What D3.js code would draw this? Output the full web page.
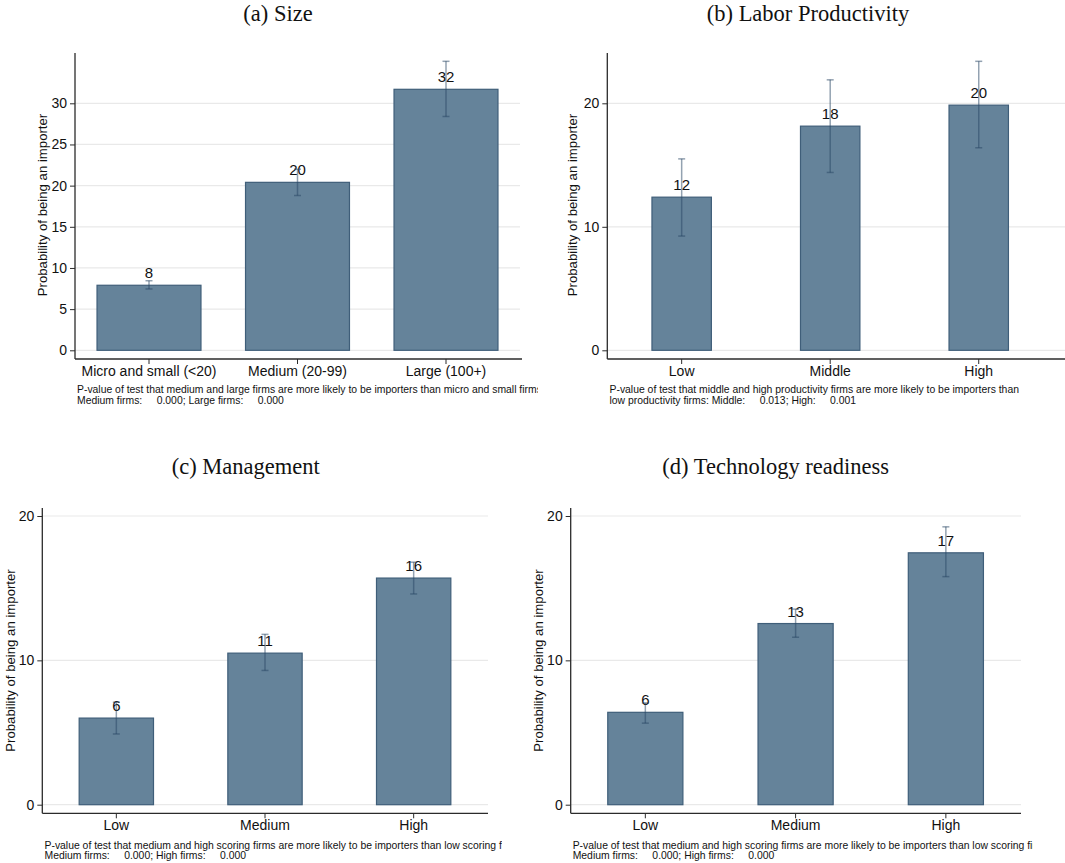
<!DOCTYPE html>
<html>
<head>
<meta charset="utf-8">
<script src="https://cdn.jsdelivr.net/npm/d3@7/dist/d3.min.js"></script>
<style>
  html, body { margin: 0; padding: 0; background: #fff; }
  svg { display: block; }
</style>
</head>
<body>
<svg id="chart" width="1065" height="863"></svg>
<script>
// ---------------- DATA ----------------
const titles = ["(a) Size", "(b) Labor Productivity", "(c) Management", "(d) Technology readiness"];

const categoriesA = ["Micro and small (<20)", "Medium (20-99)", "Large (100+)"];
const valuesA = [7.9, 20.4, 31.7];
const ciLowA = [7.45, 18.8, 28.4];
const ciHighA = [8.45, 22.0, 35.1];
const labelsA = ["8", "20", "32"];
const ticksA = [0, 5, 10, 15, 20, 25, 30];
const notesA = ["P-value of test that medium and large firms are more likely to be importers than micro and small firms:",
                "Medium firms:     0.000; Large firms:     0.000"];

const categoriesB = ["Low", "Middle", "High"];
const valuesB = [12.4, 18.15, 19.85];
const ciLowB = [9.25, 14.4, 16.4];
const ciHighB = [15.5, 21.9, 23.4];
const labelsB = ["12", "18", "20"];
const ticksB = [0, 10, 20];
const notesB = ["P-value of test that middle and high productivity firms are more likely to be importers than",
                "low productivity firms: Middle:     0.013; High:     0.001"];

const categoriesC = ["Low", "Medium", "High"];
const valuesC = [6.0, 10.5, 15.7];
const ciLowC = [4.9, 9.3, 14.6];
const ciHighC = [7.1, 11.8, 16.8];
const labelsC = ["6", "11", "16"];
const ticksC = [0, 10, 20];
const notesC = ["P-value of test that medium and high scoring firms are more likely to be importers than low scoring firms:",
                "Medium firms:     0.000; High firms:     0.000"];

const categoriesD = ["Low", "Medium", "High"];
const valuesD = [6.4, 12.55, 17.45];
const ciLowD = [5.65, 11.6, 15.8];
const ciHighD = [7.05, 13.55, 19.25];
const labelsD = ["6", "13", "17"];
const ticksD = [0, 10, 20];
const notesD = ["P-value of test that medium and high scoring firms are more likely to be importers than low scoring firms:",
                "Medium firms:     0.000; High firms:     0.000"];

const yTitle = "Probability of being an importer";

// ---------------- LAYOUT ----------------
const panels = [
  { title: titles[0], cats: categoriesA, vals: valuesA, lo: ciLowA, hi: ciHighA, labs: labelsA, ticks: ticksA, notes: notesA,
    yMax: 30, yZero: 350.3, yTopVal: 103.3, axisTop: 53, axisBottom: 359, axisLeft: 75, axisRight: 522,
    band: [74.75, 520.25], barFrac: 0.7, gridRight: 520,
    titleX: 278, titleY: 21, yTitleX: 42, yTitleY: 205, noteX: 77, noteY: 393, clipRight: 538 },
  { title: titles[1], cats: categoriesB, vals: valuesB, lo: ciLowB, hi: ciHighB, labs: labelsB, ticks: ticksB, notes: notesB,
    yMax: 20, yZero: 350.3, yTopVal: 103.3, axisTop: 53, axisBottom: 359, axisLeft: 607.3, axisRight: 1065,
    band: [607.4, 1053], barFrac: 0.4, gridRight: 1065,
    titleX: 808, titleY: 21, yTitleX: 572.3, yTitleY: 205, noteX: 609.5, noteY: 393, clipRight: 1065 },
  { title: titles[2], cats: categoriesC, vals: valuesC, lo: ciLowC, hi: ciHighC, labs: labelsC, ticks: ticksC, notes: notesC,
    yMax: 20, yZero: 804.7, yTopVal: 516, axisTop: 508, axisBottom: 813.3, axisLeft: 42.3, axisRight: 488,
    band: [42, 488], barFrac: 0.5, gridRight: 488,
    titleX: 245.7, titleY: 474, yTitleX: 10.5, yTitleY: 660.5, noteX: 44.5, noteY: 848.5, clipRight: 502 },
  { title: titles[3], cats: categoriesD, vals: valuesD, lo: ciLowD, hi: ciHighD, labs: labelsD, ticks: ticksD, notes: notesD,
    yMax: 20, yZero: 804.7, yTopVal: 516, axisTop: 508, axisBottom: 813.3, axisLeft: 570.7, axisRight: 1021,
    band: [570.2, 1021], barFrac: 0.5, gridRight: 1021,
    titleX: 775.7, titleY: 474, yTitleX: 538.3, yTitleY: 660.5, noteX: 572.7, noteY: 848.5, clipRight: 1033 }
];

const barFill = "#65839a";
const barStroke = "#3f5e79";
const ciColor = "rgba(40,70,100,0.5)";
const gridColor = "#e9e9e9";
const axisColor = "#2b2b2b";
const sans = "'Liberation Sans', Arial, Helvetica, sans-serif";
const serif = "'Liberation Serif', 'DejaVu Serif', serif";

const svg = d3.select("#chart");
const defs = svg.append("defs");

panels.forEach((p, pi) => {
  const g = svg.append("g");
  const y = d3.scaleLinear().domain([0, p.yMax]).range([p.yZero, p.yTopVal]);
  const x = d3.scaleBand().domain(p.cats).range(p.band).paddingInner(0).paddingOuter(0);
  const step = x.bandwidth();
  const bw = step * p.barFrac;
  const cx = c => x(c) + step / 2;

  // title
  g.append("text").attr("x", p.titleX).attr("y", p.titleY)
    .attr("text-anchor", "middle").attr("font-family", serif).attr("font-size", 22.5)
    .attr("fill", "#111").text(p.title);

  // gridlines
  g.append("g").selectAll("line").data(p.ticks).join("line")
    .attr("x1", p.axisLeft).attr("x2", p.gridRight)
    .attr("y1", d => y(d)).attr("y2", d => y(d))
    .attr("stroke", gridColor).attr("stroke-width", 1.2);

  // y axis
  const yAxis = d3.axisLeft(y).tickValues(p.ticks).tickSize(5).tickPadding(3).tickFormat(d3.format("d"));
  const ya = g.append("g").attr("transform", `translate(${p.axisLeft},0)`).call(yAxis);
  ya.select(".domain").remove();
  ya.selectAll(".tick line").attr("stroke", axisColor);
  ya.selectAll(".tick text").attr("font-family", sans).attr("font-size", 14).attr("fill", "#111");
  g.append("line").attr("x1", p.axisLeft).attr("x2", p.axisLeft)
    .attr("y1", p.axisTop).attr("y2", p.axisBottom).attr("stroke", axisColor).attr("stroke-width", 1.3);

  // x axis
  const xAxis = d3.axisBottom(x).tickSize(5).tickPadding(2);
  const xa = g.append("g").attr("transform", `translate(0,${p.axisBottom})`).call(xAxis);
  xa.select(".domain").remove();
  xa.selectAll(".tick line").attr("stroke", axisColor);
  xa.selectAll(".tick text").attr("font-family", sans).attr("font-size", 14).attr("fill", "#111");
  g.append("line").attr("x1", p.axisLeft).attr("x2", p.axisRight)
    .attr("y1", p.axisBottom).attr("y2", p.axisBottom).attr("stroke", axisColor).attr("stroke-width", 1.3);

  // y title
  g.append("text").attr("transform", `translate(${p.yTitleX},${p.yTitleY}) rotate(-90)`)
    .attr("text-anchor", "middle").attr("dominant-baseline", "central")
    .attr("font-family", sans).attr("font-size", 13.2).attr("fill", "#111").text(yTitle);

  const data = p.cats.map((c, i) => ({ c, v: p.vals[i], lo: p.lo[i], hi: p.hi[i], lab: p.labs[i] }));

  // bars
  g.append("g").selectAll("rect").data(data).join("rect")
    .attr("x", d => cx(d.c) - bw / 2).attr("width", bw)
    .attr("y", d => y(d.v)).attr("height", d => y(0) - y(d.v))
    .attr("fill", barFill).attr("stroke", barStroke).attr("stroke-width", 1.2);

  // value labels
  g.append("g").selectAll("text").data(data).join("text")
    .attr("x", d => cx(d.c)).attr("y", d => y(d.v) - 7)
    .attr("text-anchor", "middle").attr("font-family", sans).attr("font-size", 15)
    .attr("fill", "#111").text(d => d.lab);

  // CI
  const ci = g.append("g").attr("stroke", ciColor).attr("stroke-width", 1.5).attr("fill", "none");
  data.forEach(d => {
    ci.append("line").attr("x1", cx(d.c)).attr("x2", cx(d.c)).attr("y1", y(d.lo)).attr("y2", y(d.hi));
    ci.append("line").attr("x1", cx(d.c) - 3.5).attr("x2", cx(d.c) + 3.5).attr("y1", y(d.lo)).attr("y2", y(d.lo));
    ci.append("line").attr("x1", cx(d.c) - 3.5).attr("x2", cx(d.c) + 3.5).attr("y1", y(d.hi)).attr("y2", y(d.hi));
  });

  // notes (clipped)
  const cid = "clip" + pi;
  defs.append("clipPath").attr("id", cid).append("rect")
    .attr("x", p.noteX - 5).attr("y", p.noteY - 15).attr("width", p.clipRight - p.noteX + 5).attr("height", 40);
  const nt = g.append("g").attr("clip-path", `url(#${cid})`);
  p.notes.forEach((t, i) => {
    nt.append("text").attr("x", p.noteX).attr("y", p.noteY + i * 10.5)
      .attr("font-family", sans).attr("font-size", 10.4).attr("fill", "#111")
      .attr("xml:space", "preserve").style("white-space", "pre").text(t);
  });
});
</script>
</body>
</html>
